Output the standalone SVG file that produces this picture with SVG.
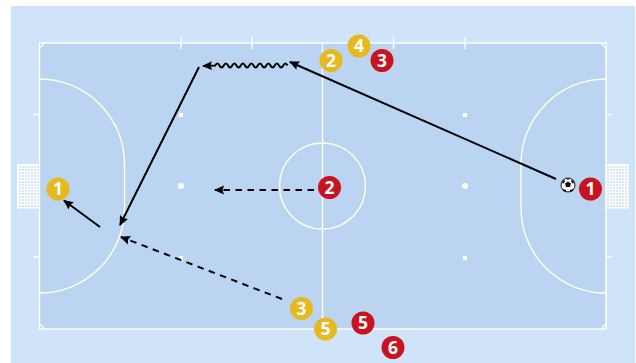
<svg xmlns="http://www.w3.org/2000/svg" width="636" height="363" viewBox="0 0 636 363">
<style>
.ln{fill:none;stroke:#fff;stroke-width:1.4}
.net{fill:url(#grid);stroke:#fff;stroke-width:1}
.spot{fill:#fff}
.c{fill:none;stroke:#000;stroke-width:2}
.d{stroke-dasharray:6.500 5.500}
.y{fill:#e6b921}
.r{fill:#c81420}
.t{font-family:"Open Sans","Liberation Sans",sans-serif;font-size:17.500px;font-weight:700;fill:#fff;text-anchor:middle}
</style>
<defs>
<pattern id="grid" width="3" height="3" patternUnits="userSpaceOnUse">
<rect width="3" height="3" fill="#d8e9fb"/>
<path d="M0 .5H3M.5 0V3" stroke="#fff" stroke-width="1" fill="none"/>
</pattern>
<marker id="a" markerUnits="userSpaceOnUse" markerWidth="12" markerHeight="12" refX="9" refY="5" orient="auto">
<path d="M0 .5L10 5 0 9.500 1.500 5Z" fill="#000"/>
</marker>
</defs>
<rect x="11" y="6" width="624" height="357" fill="#d0e4f9"/>
<rect x="39.500" y="43" width="566.500" height="286" fill="#bbd4f1"/>
<g id="court">
<rect class="net" x="17.500" y="164.500" width="22" height="43.500"/>
<rect class="net" x="606" y="164.500" width="22" height="43.500"/>
<rect class="ln" x="39.500" y="43" width="566.500" height="286"/>
<path class="ln" d="M322.500 43V329"/>
<circle class="ln" cx="322.500" cy="186" r="43"/>
<path class="ln" d="M39.500 79A85 85 0 0 1 124.500 164V208A85 85 0 0 1 39.500 293"/>
<path class="ln" d="M606 79A85 85 0 0 0 521 164V208A85 85 0 0 0 606 293"/>
<path class="ln" d="M181 37V49M252 37V49M393.500 37V49M465 37V49M33 114.500H39.500M33 257H39.500M606 114.500H612M606 257H612"/>
<path class="ln" d="M39.500 47A4 4 0 0 0 43.500 43M606 47A4 4 0 0 1 602 43M39.500 325A4 4 0 0 1 43.500 329M606 325A4 4 0 0 0 602 329" stroke-width="1"/>
<rect class="spot" x="179" y="113" width="4" height="4"/>
<rect class="spot" x="463" y="113" width="4" height="4"/>
<rect class="spot" x="179" y="256" width="4" height="4"/>
<rect class="spot" x="463" y="256" width="4" height="4"/>
<circle class="spot" cx="181" cy="186" r="3"/>
<circle class="spot" cx="465" cy="186" r="3"/>
</g>
<g id="connectors">
<path class="c" d="M556 179L290 62" marker-end="url(#a)"/>
<path class="c" d="M287.500 65.500q-2.100 -4 -4.250 0q-2.100 4 -4.250 0q-2.100 -4 -4.250 0q-2.100 4 -4.250 0q-2.100 -4 -4.250 0q-2.100 4 -4.250 0q-2.100 -4 -4.250 0q-2.100 4 -4.250 0q-2.100 -4 -4.250 0q-2.100 4 -4.250 0q-2.100 -4 -4.250 0q-2.100 4 -4.250 0q-2.100 -4 -4.250 0q-2.100 4 -4.250 0q-2.100 -4 -4.250 0q-2.100 4 -4.250 0q-2.100 -4 -4.250 0L203 66" marker-end="url(#a)"/>
<path class="c" d="M199 67L120 225" marker-end="url(#a)"/>
<path class="c" d="M100 227L64 200.500" marker-end="url(#a)"/>
<path class="c d" d="M314 190H215" marker-end="url(#a)"/>
<path class="c d" d="M282 299L121 237" marker-end="url(#a)"/>
</g>
<g id="ball">
<circle cx="568" cy="185" r="7" fill="#fff" stroke="#111" stroke-width="1"/>
<path d="M568 181.500l3 2-1 3.500h-4l-1-3.500zM562 182l2-2.500 1 2-2 2.500zM574 182l-2-2.500-1 2 2 2.500zM563 189l3 1 0 2-3-1zM573 189l-3 1 0 2 3-1zM566 178.500h4l-2 1.500z" fill="#111"/>
</g>
<g id="y1"><circle class="y" cx="58" cy="189" r="11.500"/><text class="t" x="58" y="195">1</text></g>
<g id="y2"><circle class="y" cx="331" cy="60.500" r="11.500"/><text class="t" x="331" y="66.500">2</text></g>
<g id="y3"><circle class="y" cx="301.500" cy="308.500" r="11.500"/><text class="t" x="301.500" y="314.500">3</text></g>
<g id="y4"><circle class="y" cx="359" cy="46" r="11.500"/><text class="t" x="359" y="52">4</text></g>
<g id="y5"><circle class="y" cx="325.500" cy="329" r="11.500"/><text class="t" x="325.500" y="335">5</text></g>
<g id="r1"><circle class="r" cx="590.500" cy="189" r="11.500"/><text class="t" x="590.500" y="195">1</text></g>
<g id="r2"><circle class="r" cx="329.500" cy="187.500" r="11.500"/><text class="t" x="329.500" y="193.500">2</text></g>
<g id="r3"><circle class="r" cx="382" cy="60.500" r="11.500"/><text class="t" x="382" y="66.500">3</text></g>
<g id="r5"><circle class="r" cx="363" cy="323" r="11.500"/><text class="t" x="363" y="329">5</text></g>
<g id="r6"><circle class="r" cx="393" cy="347.500" r="11.500"/><text class="t" x="393" y="353.500">6</text></g>
</svg>
